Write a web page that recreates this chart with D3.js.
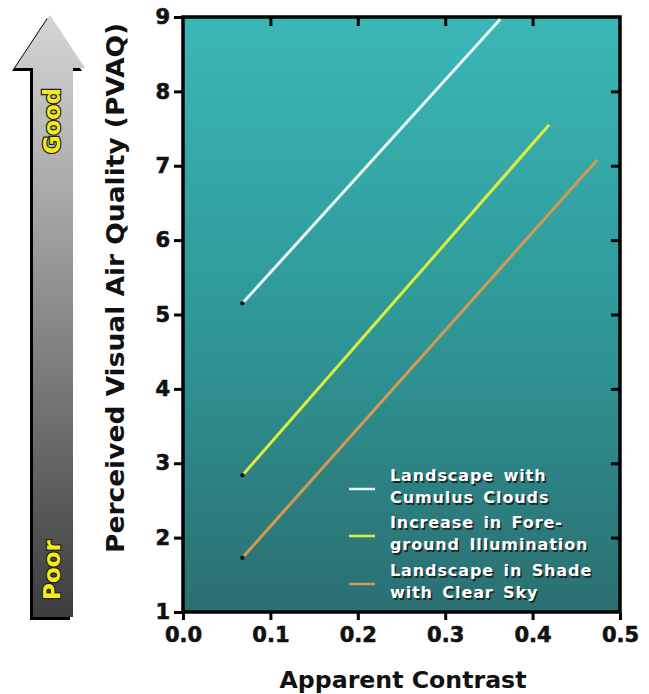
<!DOCTYPE html>
<meta charset="utf-8">
<style>
body { margin: 0; background: #fff; }
svg { display: block; }
.legend text { font-family: "DejaVu Sans", sans-serif; font-weight: bold; font-size: 16px; }
</style>
<body>
<svg width="649" height="694"></svg>
<script src="https://cdn.jsdelivr.net/npm/d3@7"></script>
<script>

// data
var series = ["Landscape with Cumulus Clouds", "Increase in Fore-ground Illumination", "Landscape in Shade with Clear Sky"];
var legendLines = [["Landscape with", "Cumulus Clouds"], ["Increase in Fore-", "ground Illumination"], ["Landscape in Shade", "with Clear Sky"]];
var contrast = [[0.068, 0.363], [0.068, 0.419], [0.068, 0.474]];
var pvaq = [[5.15, 8.97], [2.84, 7.55], [1.73, 7.08]];
var colors = ["#e6f6f4", "#dcee3c", "#d39a52"];
var xTicks = [0, 0.1, 0.2, 0.3, 0.4, 0.5];
var yTicks = [1, 2, 3, 4, 5, 6, 7, 8, 9];

var svg = d3.select("svg"),
    margin = {top: 17, right: 29, bottom: 82, left: 183},
    width = +svg.attr("width") - margin.left - margin.right,
    height = +svg.attr("height") - margin.top - margin.bottom;

var defs = svg.append("defs");
var bg = defs.append("linearGradient").attr("id", "bg").attr("x1", 0).attr("y1", 0).attr("x2", 0).attr("y2", 1);
bg.append("stop").attr("offset", "0%").attr("stop-color", "#3bb7b7");
bg.append("stop").attr("offset", "50%").attr("stop-color", "#2f9898");
bg.append("stop").attr("offset", "100%").attr("stop-color", "#2b6f71");

var ag = defs.append("linearGradient").attr("id", "arrow")
    .attr("gradientUnits", "userSpaceOnUse").attr("x1", 0).attr("y1", 15).attr("x2", 0).attr("y2", 620);
ag.append("stop").attr("offset", "0%").attr("stop-color", "#d6d6d6");
ag.append("stop").attr("offset", "100%").attr("stop-color", "#3c3c3c");

// good / poor arrow
var arrowPath = "M50,15 L85,68 L73,68 L73,617 L33,617 L33,68 L15,68 Z";
svg.append("path").attr("d", arrowPath).attr("transform", "translate(-3,3)").attr("fill", "#000");
svg.append("path").attr("d", arrowPath).attr("fill", "url(#arrow)");

[["Good", 121, 66], ["Poor", 570, 60]].forEach(function(p) {
  svg.append("text")
      .attr("transform", "translate(60," + p[1] + ") rotate(-90)")
      .attr("text-anchor", "middle")
      .style("font", "bold 23px 'DejaVu Sans', sans-serif")
      .attr("textLength", p[2])
      .attr("lengthAdjust", "spacingAndGlyphs")
      .attr("fill", "#f4ea1c")
      .attr("stroke", "#222")
      .attr("stroke-width", 2.5)
      .attr("paint-order", "stroke")
      .text(p[0]);
});

var g = svg.append("g").attr("transform", "translate(" + margin.left + "," + margin.top + ")");

var x = d3.scaleLinear().domain([0, 0.5]).range([0, width]),
    y = d3.scaleLinear().domain([1, 9]).range([height, 0]);

g.append("rect").attr("width", width).attr("height", height).attr("fill", "url(#bg)");

// axes
g.append("g")
    .attr("class", "axis axis--x")
    .attr("transform", "translate(0," + height + ")")
    .call(d3.axisBottom(x).tickValues(xTicks).tickFormat(d3.format(".1f")).tickSize(8).tickPadding(7));

g.append("g")
    .attr("class", "axis axis--y")
    .call(d3.axisLeft(y).tickValues(yTicks).tickFormat(d3.format("d")).tickSize(9).tickPadding(4));

g.append("g")
    .attr("class", "axis")
    .call(d3.axisTop(x).tickValues(xTicks.slice(1, -1)).tickFormat("").tickSize(-9));

g.append("g")
    .attr("class", "axis")
    .attr("transform", "translate(" + width + ",0)")
    .call(d3.axisRight(y).tickValues(yTicks.slice(1, -1)).tickFormat("").tickSize(-9));

g.selectAll(".axis path").remove();
g.selectAll(".axis line").attr("stroke", "#000").attr("stroke-width", 3);
g.selectAll(".axis text")
    .style("font-family", "'DejaVu Sans', sans-serif")
    .style("font-weight", "bold")
    .style("font-size", "21px")
    .attr("fill", "#111")
    .attr("stroke", "#111")
    .attr("stroke-width", 0.6);

g.append("rect").attr("width", width).attr("height", height)
    .attr("fill", "none").attr("stroke", "#000").attr("stroke-width", 3.5);

// lines
var line = d3.line()
    .x(function(d) { return x(d[0]); })
    .y(function(d) { return y(d[1]); });

series.forEach(function(name, i) {
  var pts = d3.zip(contrast[i], pvaq[i]);
  g.append("path")
      .attr("d", line(pts))
      .attr("fill", "none")
      .attr("stroke", colors[i])
      .attr("stroke-width", 3);
  g.append("circle")
      .attr("cx", x(pts[0][0])).attr("cy", y(pts[0][1]))
      .attr("r", 2.2).attr("fill", "#0a1a1a");
});

// legend
var legend = svg.append("g").attr("class", "legend");
var legendY = [489, 536, 584];
series.forEach(function(name, i) {
  legend.append("line")
      .attr("x1", 349).attr("x2", 375)
      .attr("y1", legendY[i]).attr("y2", legendY[i])
      .attr("stroke", colors[i]).attr("stroke-width", 2.5);
  legendLines[i].forEach(function(t, j) {
    var ty = legendY[i] - 8 + j * 22;
    legend.append("text").attr("x", 391.5).attr("y", ty + 1.5).attr("fill", "#1a2a2a")
        .attr("word-spacing", 3).attr("letter-spacing", 0.9).text(t);
    legend.append("text").attr("x", 390).attr("y", ty).attr("fill", "#fff")
        .attr("word-spacing", 3).attr("letter-spacing", 0.9).text(t);
  });
});

// axis titles
svg.append("text")
    .attr("transform", "translate(124,288) rotate(-90)")
    .attr("text-anchor", "middle")
    .style("font", "bold 25px 'Liberation Sans Narrow', 'DejaVu Sans Condensed', sans-serif")
    .attr("textLength", 530)
    .attr("lengthAdjust", "spacingAndGlyphs")
    .attr("fill", "#111")
    .text("Perceived Visual Air Quality (PVAQ)");

svg.append("text")
    .attr("x", 403).attr("y", 688)
    .attr("text-anchor", "middle")
    .style("font", "bold 23px 'DejaVu Sans', sans-serif")
    .attr("textLength", 247)
    .attr("lengthAdjust", "spacingAndGlyphs")
    .attr("fill", "#111")
    .text("Apparent Contrast");

</script>
</body>
